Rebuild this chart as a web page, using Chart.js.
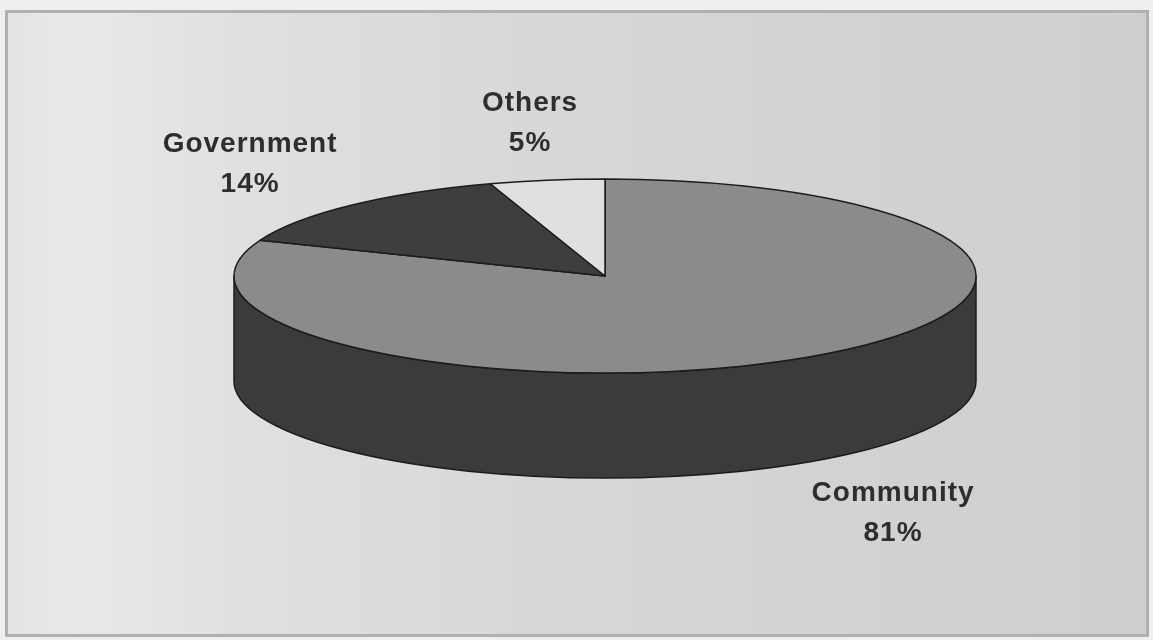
<!DOCTYPE html>
<html>
<head>
<meta charset="utf-8">
<script src="https://cdn.jsdelivr.net/npm/chart.js@4"></script>
<style>
  body { margin: 0; background: #efefef; }
  #frame {
    position: absolute; left: 5px; top: 10px; width: 1138px; height: 621px;
    border: 3px solid #b0b0b0;
    background: linear-gradient(to right, #e4e4e4 0%, #e9e9e9 6%, #e0e0e0 20%, #d8d8d8 45%, #d2d2d2 75%, #cfcfcf 100%);
  }
  canvas { position: absolute; left: 0; top: 0; }
</style>
</head>
<body>
<div id="frame"></div>
<canvas id="pieChart" width="1153" height="640"></canvas>
<script>
// chart data
const categories = ['Community', 'Government', 'Others'];
const shares = [81, 14, 5];
const topColours = ['#8b8b8b', '#3e3e3e', '#e0e0e0'];
const sideColours = ['#3b3b3b', '#2c2c2c', '#b4b4b4'];

// ellipse size of the 3d pie (pixels)
const RX = 371, RY = 97, DEPTH = 105;
const LABEL_GAP_X = 60, LABEL_GAP_Y = 30;

const pie3d = {
  id: 'pie3d',
  beforeDatasetsDraw(chart) {
    const ctx = chart.ctx;
    const meta = chart.getDatasetMeta(0);
    const cx = meta.data[0].x, cy = meta.data[0].y, R = meta.data[0].outerRadius;
    ctx.save();
    ctx.lineWidth = 1.5;
    ctx.strokeStyle = '#1c1c1c';
    ctx.lineJoin = 'round';

    // front walls (only the part between 0 and PI faces the viewer)
    meta.data.forEach((arc, i) => {
      const s = Math.max(arc.startAngle, 0);
      const e = Math.min(arc.endAngle, Math.PI);
      if (s >= e) return;
      ctx.beginPath();
      ctx.ellipse(cx, cy, RX, RY, 0, s, e);
      ctx.ellipse(cx, cy + DEPTH, RX, RY, 0, e, s, true);
      ctx.closePath();
      ctx.fillStyle = sideColours[i];
      ctx.fill();
      ctx.stroke();
    });

    // top faces: library arcs squashed into the ellipse
    meta.data.forEach((arc, i) => {
      ctx.save();
      ctx.translate(cx, cy);
      ctx.scale(RX / R, RY / R);
      ctx.translate(-cx, -cy);
      arc.draw(ctx);
      ctx.restore();
      ctx.beginPath();
      ctx.moveTo(cx, cy);
      ctx.ellipse(cx, cy, RX, RY, 0, arc.startAngle, arc.endAngle);
      ctx.closePath();
      ctx.stroke();
    });
    ctx.restore();
    return false;
  },
  afterDraw(chart) {
    const ctx = chart.ctx;
    const meta = chart.getDatasetMeta(0);
    ctx.save();
    ctx.font = 'bold 28px "Liberation Sans", Arial, sans-serif';
    ctx.letterSpacing = '1px';
    ctx.fillStyle = '#2e2e2e';
    ctx.textAlign = 'center';
    ctx.textBaseline = 'alphabetic';
    meta.data.forEach((arc, i) => {
      const mid = (arc.startAngle + arc.endAngle) / 2;
      const c = Math.cos(mid), s = Math.sin(mid);
      const lines = [categories[i], shares[i] + '%'];
      const w = Math.max(...lines.map(t => ctx.measureText(t).width));
      const h = 60;
      const px = arc.x + (RX + LABEL_GAP_X) * c;
      const py = arc.y + (RY + LABEL_GAP_Y) * s + (s > 0 ? DEPTH : 0);
      const bx = px + c * w / 2;
      const by = py + s * h / 2;
      ctx.fillText(lines[0], bx, by - 10);
      ctx.fillText(lines[1], bx, by + 30);
    });
    ctx.restore();
  }
};

new Chart(document.getElementById('pieChart'), {
  type: 'pie',
  data: {
    labels: categories,
    datasets: [{
      data: shares,
      backgroundColor: topColours,
      borderWidth: 0
    }]
  },
  options: {
    responsive: false,
    animation: false,
    layout: { padding: { left: 57, bottom: 88 } },
    plugins: {
      legend: { display: false },
      tooltip: { enabled: false }
    }
  },
  plugins: [pie3d]
});
</script>
</body>
</html>
